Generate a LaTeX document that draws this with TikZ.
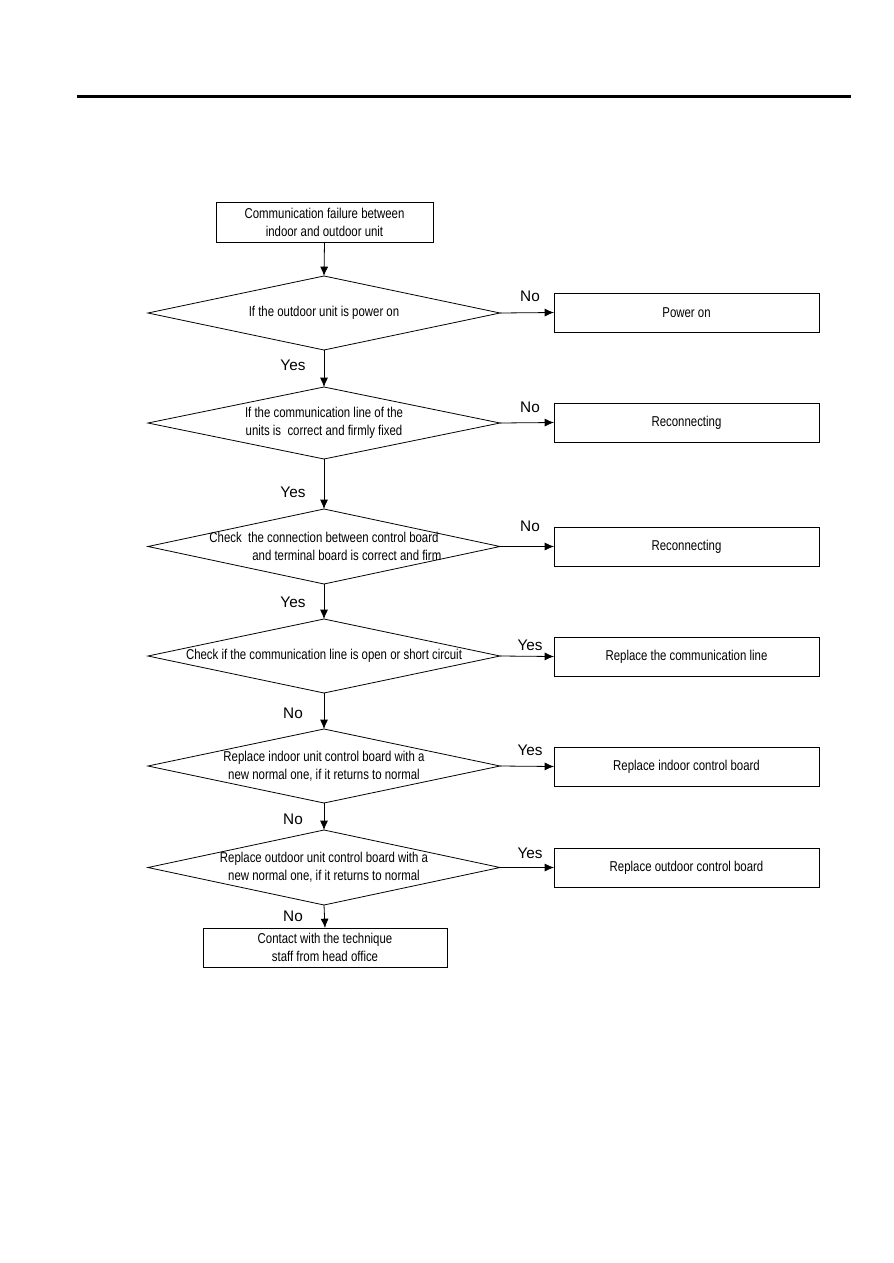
\documentclass[tikz,border=0pt]{standalone}
\usepackage{fontspec}
\setmainfont{Liberation Sans}
\newfontfamily\narrowfont[FakeStretch=0.80]{Liberation Sans}
\usetikzlibrary{shapes.geometric,arrows.meta}
\begin{document}
\begin{tikzpicture}[x=0.75pt,y=-0.75pt,
  every node/.style={inner sep=0pt,outer sep=0pt},
  txt/.style={font=\narrowfont\fontsize{10.7pt}{13.5pt}\selectfont,align=center},
  boxnode/.style={draw,line width=0.7pt,txt},
  lbl/.style={font=\fontsize{11.5pt}{13pt}\selectfont},
  arr/.style={-{Latex[length=7pt,width=6pt]},line width=0.6pt}]
\useasboundingbox (0,0) rectangle (893,1263);
\fill[white] (0,0) rectangle (893,1263);
\draw[line width=1.6pt] (77,96.5) -- (851,96.5);
% start
\node[boxnode,minimum width=217*0.75pt,minimum height=40*0.75pt] (start) at (324.5,222) {Communication failure between\\ indoor and outdoor unit};
\newcommand\dia[4]{% name, cy, halfheight, text
  \draw[line width=0.6pt] (148,#2) -- (324,#2-#3) -- (500,#2) -- (324,#2+#3) -- cycle;
  \coordinate (#1t) at (324,#2-#3);
  \coordinate (#1b) at (324,#2+#3);
  \coordinate (#1r) at (500,#2);
  \node[txt] (#1) at (324,#2) {#4};
}
\dia{a}{313}{37}{If the outdoor unit is power on}
\dia{b}{423}{36}{If the communication line of the\\ units is\ \ correct and firmly fixed}
\dia{c}{546.5}{37.5}{Check\ \ the connection between control board\\ \hspace*{3.2em}and terminal board is correct and firm}
\dia{e}{656}{37}{Check if the communication line is open or short circuit}
\dia{f}{766}{37}{Replace indoor unit control board with a\\ new normal one, if it returns to normal}
\dia{g}{867.5}{37.5}{Replace outdoor unit control board with a\\ new normal one, if it returns to normal}
% right boxes
\foreach \n/\y/\t in {pa/312.5/Power on,pb/422.5/Reconnecting,pc/546.5/Reconnecting,pe/656.5/Replace the communication line,pf/766.5/Replace indoor control board,pg/867.5/Replace outdoor control board}{
  \node[boxnode,minimum width=265*0.75pt,minimum height=39*0.75pt] (\n) at (686.5,\y) {\t};
}
\node[boxnode,minimum width=244*0.75pt,minimum height=39*0.75pt] (end) at (325,947.5) {Contact with the technique\\ staff from head office};
% vertical arrows
\draw[arr] (start.south) -- (at);
\draw[arr] (ab) -- (bt);
\draw[arr] (bb) -- (ct);
\draw[arr] (cb) -- (et);
\draw[arr] (eb) -- (ft);
\draw[arr] (fb) -- (gt);
\draw[arr] (gb) -- (end.north);
% horizontal arrows
\draw[arr] (ar) -- (pa.west);
\draw[arr] (br) -- (pb.west);
\draw[arr] (cr) -- (pc.west);
\draw[arr] (er) -- (pe.west);
\draw[arr] (fr) -- (pf.west);
\draw[arr] (gr) -- (pg.west);
% labels
\node[lbl] (l1) at (530,296) {No};
\node[lbl] (l2) at (530,407) {No};
\node[lbl] (l3) at (530,526) {No};
\node[lbl] (l4) at (530,645) {Yes};
\node[lbl] (l5) at (530,750) {Yes};
\node[lbl] (l6) at (530,853) {Yes};
\node[lbl] (m1) at (293,365) {Yes};
\node[lbl] (m2) at (293,492) {Yes};
\node[lbl] (m3) at (293,602) {Yes};
\node[lbl] (m4) at (293,713) {No};
\node[lbl] (m5) at (293,819) {No};
\node[lbl] (m6) at (293,916) {No};
\end{tikzpicture}
\end{document}
